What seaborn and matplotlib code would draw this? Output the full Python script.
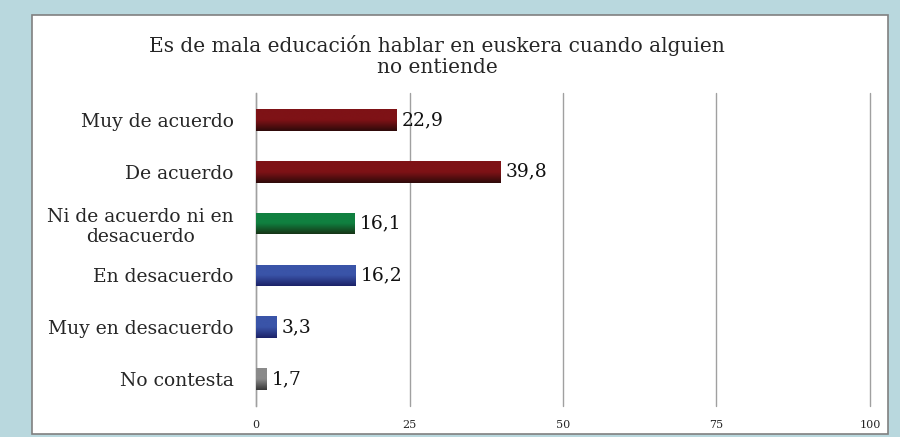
import numpy as np
import pandas as pd
import matplotlib.pyplot as plt
import matplotlib.colors as mcolors
from matplotlib.patches import Rectangle
import seaborn as sns

# Data
categories = ["Muy de acuerdo", "De acuerdo", "Ni de acuerdo ni en\ndesacuerdo",
              "En desacuerdo", "Muy en desacuerdo", "No contesta"]
values = [22.9, 39.8, 16.1, 16.2, 3.3, 1.7]
value_labels = ["22,9", "39,8", "16,1", "16,2", "3,3", "1,7"]
x_ticks = [0, 25, 50, 75, 100]

# gradient colours per bar (top, bottom)
top_colors = ["#7e1216", "#7e1216", "#108040", "#3a54a8", "#3a54a8", "#8a8a8a"]
bottom_colors = ["#2e0a0a", "#2e0a0a", "#163416", "#1c2268", "#1c2268", "#383838"]

sns.set_style("white")
plt.rcParams['font.family'] = ['DejaVu Serif', 'DejaVu Sans']

df = pd.DataFrame({"cat": categories, "val": values})

fig = plt.figure(figsize=(9, 4.37), dpi=100)
fig.patch.set_facecolor("#b9d8de")
fig.patches.append(Rectangle((32 / 900, 1 - 434 / 437), (888 - 32) / 900, (434 - 15) / 437,
                             transform=fig.transFigure, facecolor="white",
                             edgecolor="#808080", lw=1.2, zorder=-10))

ax = fig.add_axes([256 / 900, 1 - 406 / 437, (870 - 256) / 900, (406 - 93) / 437])
ax.set_facecolor("none")

sns.barplot(data=df, y="cat", x="val", hue="cat", palette=top_colors,
            legend=False, width=0.42, ax=ax, orient="h")

# replace flat fills by vertical gradients
for patch, c1, c2 in zip(ax.patches, top_colors, bottom_colors):
    x0, y0 = patch.get_x(), patch.get_y()
    w, h = patch.get_width(), patch.get_height()
    cmap = mcolors.LinearSegmentedColormap.from_list("g", [c1, c1, c2])
    grad = np.linspace(0, 1, 64).reshape(-1, 1)
    im = ax.imshow(grad, cmap=cmap, extent=(x0, x0 + w, y0 + h, y0),
                   origin="upper", aspect="auto", zorder=3)
    im.set_clip_path(patch)
    patch.set_facecolor("none")
    patch.set_edgecolor("none")

for i, (v, lab) in enumerate(zip(values, value_labels)):
    ax.text(v + 0.8, i, lab, va="center", ha="left", fontsize=13.5, color="#111111")

ax.set_xlim(0, 100)
ax.set_ylim(5.52, -0.52)
ax.set_xticks(x_ticks)
ax.set_xticklabels([str(t) for t in x_ticks], fontsize=8)
ax.xaxis.grid(True, color="#a0a0a0", lw=1)
for gl in ax.get_xgridlines():
    gl.set_clip_on(False)
ax.set_axisbelow(True)
for s in ["top", "right", "bottom"]:
    ax.spines[s].set_visible(False)
ax.spines["left"].set_color("#a0a0a0")
ax.spines["left"].set_linewidth(1)
ax.tick_params(axis="both", length=0)
ax.tick_params(axis="x", pad=10)
ax.tick_params(axis="y", pad=16, labelsize=13.5)
plt.setp(ax.get_yticklabels(), multialignment="center", linespacing=1.2)
ax.set_xlabel("")
ax.set_ylabel("")

fig.text(437 / 900, 1 - 56 / 437,
         "Es de mala educación hablar en euskera cuando alguien\nno entiende",
         ha="center", va="center", fontsize=14.5, linespacing=1.15)

fig.savefig("out.png", dpi=100, facecolor=fig.get_facecolor())
